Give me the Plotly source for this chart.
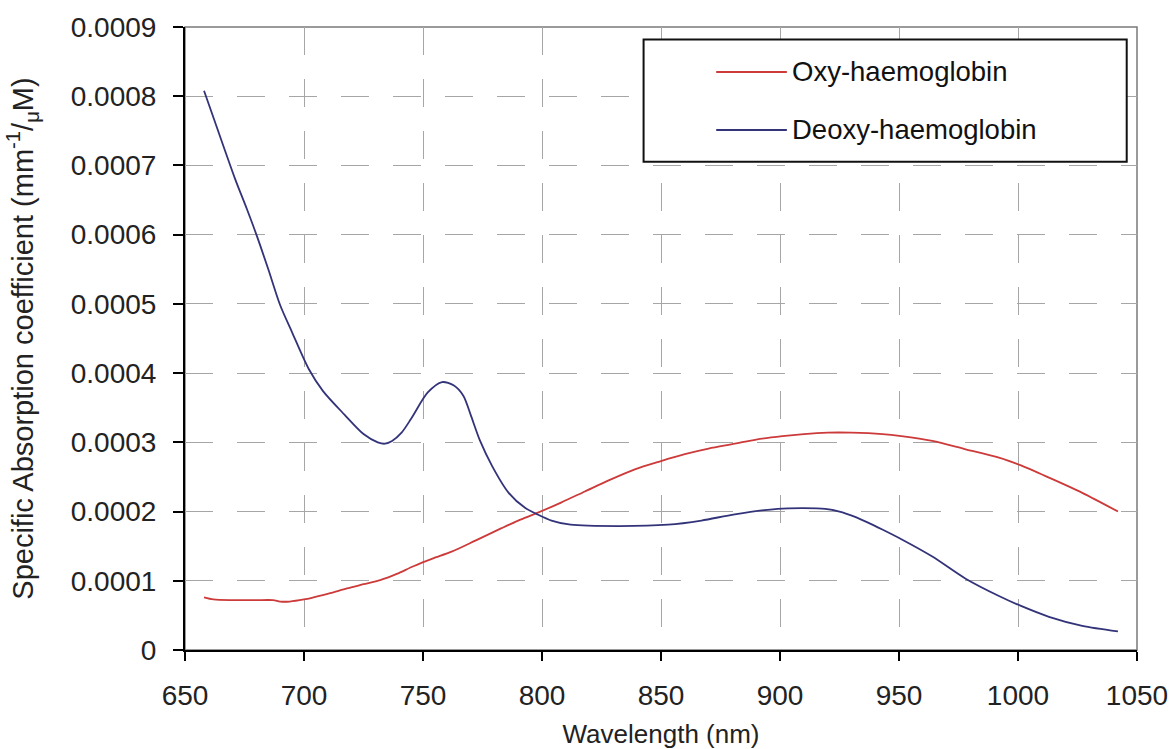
import plotly.graph_objects as go

# ---- data ----
deoxy_wl = [658, 664, 671, 676, 680, 685, 690, 695, 702, 708, 717, 725, 731, 734, 737, 741,
            745, 752, 758, 763, 767, 770, 774, 779, 786, 793, 798, 804, 812, 832, 853, 867, 881,
            899, 910, 919, 925, 931, 937, 943, 951, 964, 978, 992, 1001, 1013, 1027, 1042]
deoxy_val = [0.000808, 0.000749, 0.000681, 0.000637, 0.000600, 0.000550, 0.000498, 0.000459,
             0.000406, 0.000374, 0.000340, 0.000312, 0.000300, 0.000298, 0.000302,
             0.000314, 0.000334, 0.000372, 0.000387, 0.000382, 0.000367, 0.000340, 0.000302,
             0.000266, 0.000227, 0.000205, 0.000196, 0.000187, 0.000181, 0.000179, 0.000181,
             0.000187, 0.000196, 0.000204, 0.000205, 0.000204, 0.000200, 0.000193, 0.000184,
             0.000174, 0.000160, 0.000135, 0.000103, 0.000078, 0.000064, 0.000048, 0.000035,
             0.000027]

oxy_wl = [658, 662, 670, 680, 687, 690, 694, 700, 704, 711, 718, 725, 732, 739, 746, 754, 762,
          772, 783, 790, 798, 808, 818, 828, 839, 850, 860, 870, 881, 890, 901, 910, 920, 930,
          943, 951, 964, 978, 992, 1001, 1013, 1027, 1042]
oxy_val = [0.000076, 0.000073, 0.000072, 0.000072, 0.000072, 0.000070, 0.000070, 0.000073,
           0.000076, 0.000082, 0.000089, 0.000095, 0.000101, 0.000110, 0.000121, 0.000132,
           0.000142, 0.000158, 0.000176, 0.000187, 0.000198, 0.000213, 0.000229, 0.000245,
           0.000261, 0.000273, 0.000283, 0.000291, 0.000298, 0.000304, 0.000309, 0.000312,
           0.000314, 0.000314, 0.000312, 0.000309, 0.000302, 0.000290, 0.000278, 0.000267,
           0.000249, 0.000227, 0.000200]

x_ticks = [650, 700, 750, 800, 850, 900, 950, 1000, 1050]
y_ticks = [0, 0.0001, 0.0002, 0.0003, 0.0004, 0.0005, 0.0006, 0.0007, 0.0008, 0.0009]
y_tick_text = ["0", "0.0001", "0.0002", "0.0003", "0.0004", "0.0005", "0.0006", "0.0007",
               "0.0008", "0.0009"]

series_names = ["Oxy-haemoglobin", "Deoxy-haemoglobin"]
series_colors = ["#cc3a3a", "#33337a"]

FONT = "Liberation Sans, Arial, sans-serif"

fig = go.Figure()
fig.add_trace(go.Scatter(x=oxy_wl, y=oxy_val, mode="lines", name=series_names[0],
                         line=dict(color=series_colors[0], width=1.8, shape="spline", smoothing=0.8)))
fig.add_trace(go.Scatter(x=deoxy_wl, y=deoxy_val, mode="lines", name=series_names[1],
                         line=dict(color=series_colors[1], width=1.8, shape="spline", smoothing=0.8)))

# plot frame (top/right grey border)
shapes = [dict(type="rect", xref="paper", yref="paper", x0=0, x1=1, y0=0, y1=1,
               line=dict(color="#7a7a7a", width=1.5), layer="below")]

# custom legend box
lx0, lx1, ly0, ly1 = 0.4817, 0.9892, 0.7838, 0.980
shapes.append(dict(type="rect", xref="paper", yref="paper", x0=lx0, x1=lx1, y0=ly0, y1=ly1,
                   line=dict(color="#111111", width=2), fillcolor="white", layer="above"))
leg_y = [0.9278, 0.8347]
annotations = []
for name, col, yy in zip(series_names, series_colors, leg_y):
    shapes.append(dict(type="line", xref="paper", yref="paper", x0=0.558, x1=0.6322, y0=yy, y1=yy,
                       line=dict(color=col, width=1.8), layer="above"))
    annotations.append(dict(xref="paper", yref="paper", x=0.6350, y=yy, text=name,
                            showarrow=False, xanchor="left", yanchor="middle",
                            font=dict(family=FONT, size=27.5, color="#111111")))

fig.update_layout(
    width=1170, height=749,
    margin=dict(l=185, r=33, t=27, b=99, autoexpand=False),
    paper_bgcolor="white", plot_bgcolor="white",
    showlegend=False,
    shapes=shapes, annotations=annotations,
    font=dict(family=FONT, color="#222222"),
)

fig.update_xaxes(
    range=[650, 1050], tickvals=x_ticks, ticktext=[str(v) for v in x_ticks],
    automargin=False,
    showline=True, linecolor="black", linewidth=2,
    ticks="outside", ticklen=9, tickwidth=2, tickcolor="black",
    ticklabelstandoff=10,
    tickfont=dict(family=FONT, size=28, color="#222222"),
    showgrid=True, gridcolor="#a6a6a6", gridwidth=1, griddash="28px,24px",
    zeroline=False,
    title=dict(text="Wavelength (nm)", font=dict(family=FONT, size=26, color="#222222"), standoff=18),
)
fig.update_yaxes(
    range=[0, 0.0009], tickvals=y_ticks, ticktext=y_tick_text,
    automargin=False,
    showline=True, linecolor="black", linewidth=2,
    ticks="outside", ticklen=10, tickwidth=2, tickcolor="black",
    ticklabelstandoff=11,
    tickfont=dict(family=FONT, size=28, color="#222222"),
    showgrid=True, gridcolor="#a6a6a6", gridwidth=1, griddash="28px,24px",
    zeroline=False,
    title=dict(text="Specific Absorption coefficient (mm<sup>-1</sup>/<sub>μ</sub>M)",
               font=dict(family=FONT, size=29, color="#222222"), standoff=29),
)

fig.write_html("out.html")
